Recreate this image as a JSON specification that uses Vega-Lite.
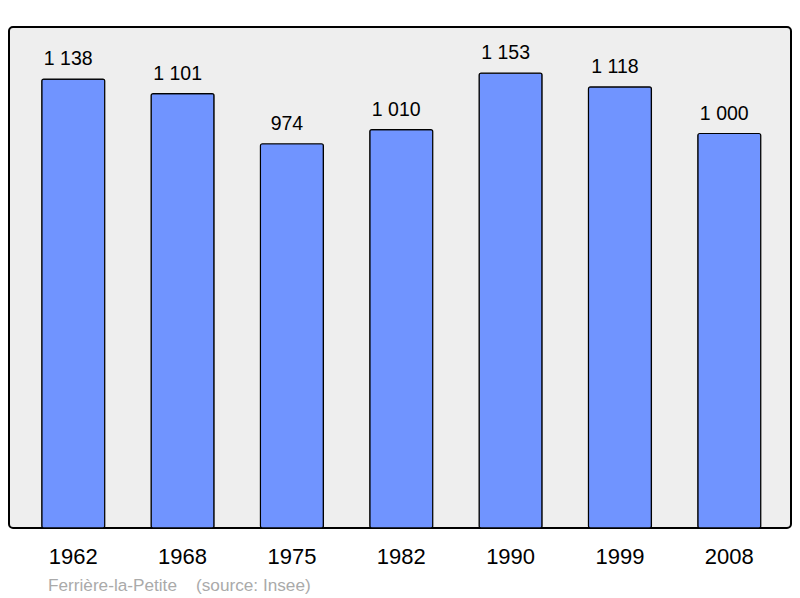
{
  "$schema": "https://vega.github.io/schema/vega-lite/v6.json",
  "width": 782,
  "height": 501,
  "autosize": "none",
  "padding": {"left": 9, "top": 27, "right": 9, "bottom": 70},
  "background": "white",
  "title": {
    "text": "Ferrière-la-Petite\u00a0\u00a0\u00a0\u00a0(source: Insee)",
    "orient": "bottom",
    "anchor": "start",
    "dx": 39,
    "offset": 10,
    "fontSize": 17.2,
    "fontWeight": "normal",
    "color": "#aaaaaa",
    "font": "Liberation Sans"
  },
  "data": {
    "values": [
      {"year": "1962", "pop": 1138},
      {"year": "1968", "pop": 1101},
      {"year": "1975", "pop": 974},
      {"year": "1982", "pop": 1010},
      {"year": "1990", "pop": 1153},
      {"year": "1999", "pop": 1118},
      {"year": "2008", "pop": 1000}
    ]
  },
  "encoding": {
    "x": {
      "field": "year",
      "type": "ordinal",
      "scale": {"paddingInner": 0.424, "paddingOuter": 0.288, "align": 0.52},
      "axis": {
        "title": null,
        "ticks": false,
        "domain": false,
        "labelAngle": 0,
        "labelFontSize": 22,
        "labelFont": "Liberation Sans",
        "labelColor": "black",
        "labelPadding": 18
      }
    },
    "y": {
      "field": "pop",
      "type": "quantitative",
      "scale": {"domain": [0, 1270], "nice": false},
      "axis": null
    }
  },
  "layer": [
    {
      "mark": {"type": "bar", "color": "#7094ff", "stroke": "black", "strokeWidth": 1.2, "cornerRadius": 2}
    },
    {
      "mark": {"type": "text", "baseline": "alphabetic", "align": "center", "dx": -5, "dy": -14, "fontSize": 19.5, "font": "Liberation Sans", "color": "black"},
      "encoding": {"text": {"field": "pop", "type": "quantitative", "format": ",d"}}
    }
  ],
  "config": {
    "locale": {"number": {"decimal": ",", "thousands": " ", "grouping": [3], "currency": ["", " €"]}},
    "view": {"fill": "#eeeeee", "stroke": "black", "strokeWidth": 2, "cornerRadius": 4}
  }
}
